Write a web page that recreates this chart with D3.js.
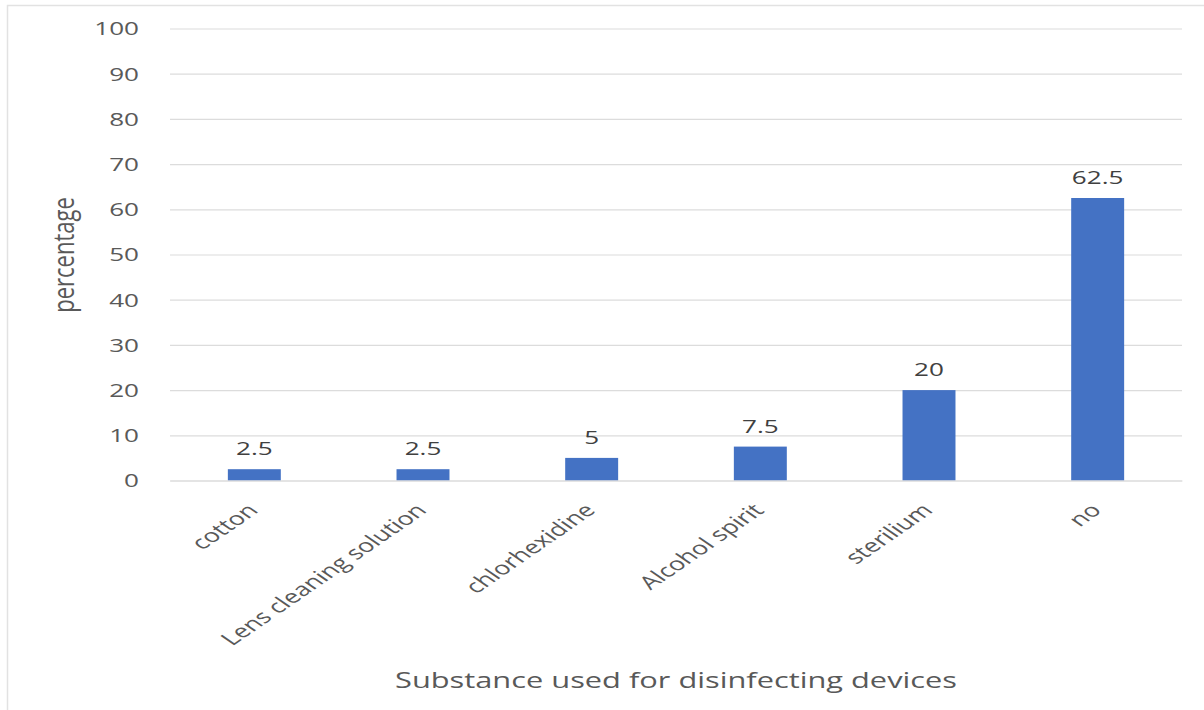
<!DOCTYPE html>
<html>
<head>
<meta charset="utf-8">
<script src="https://cdn.jsdelivr.net/npm/d3@7"></script>
<style>
  html, body { margin: 0; padding: 0; background: #fff; }
  svg { display: block; }
</style>
</head>
<body>
<div id="chart"></div>
<script>
// Substances used for disinfecting devices (percentage of respondents)
const categories = ["cotton", "Lens cleaning solution", "chlorhexidine", "Alcohol spirit", "sterilium", "no"];
const values = [2.5, 2.5, 5, 7.5, 20, 62.5];
const yTicks = [0, 10, 20, 30, 40, 50, 60, 70, 80, 90, 100];

const W = 1204, H = 710;
const margin = { left: 170, right: 22, top: 28.5, bottom: 229.5 };
const FONT = "'Open Sans', 'Noto Sans', sans-serif";
const SX = 1.45; // horizontal widening applied to all text

const svg = d3.select("#chart").append("svg")
  .attr("width", W).attr("height", H);

// chart frame
svg.append("rect")
  .attr("x", 7.5).attr("y", 5.5)
  .attr("width", W + 10).attr("height", H + 10)
  .attr("fill", "#fff").attr("stroke", "#e2e2e2").attr("stroke-width", 1.5);

const x = d3.scaleBand()
  .domain(categories)
  .range([margin.left, W - margin.right])
  .paddingInner(0.686)
  .paddingOuter(0.343);

const y = d3.scaleLinear()
  .domain([0, 100])
  .range([H - margin.bottom, margin.top]);

// horizontal gridlines + y tick labels
const yAxis = d3.axisLeft(y)
  .tickValues(yTicks)
  .tickSize(-(W - margin.right - margin.left))
  .tickPadding(0);

const gy = svg.append("g")
  .attr("transform", `translate(${margin.left},0)`)
  .call(yAxis);
gy.select(".domain").remove();
gy.selectAll(".tick line").attr("stroke", "#dcdcdc").attr("stroke-width", 1.2);
gy.selectAll(".tick text")
  .attr("x", 0)
  .attr("dy", "0.36em")
  .attr("transform", `translate(-31,0) scale(${SX},1)`)
  .attr("fill", "#595959")
  .style("font-family", FONT)
  .style("font-size", "18px");

// bars
svg.append("g").selectAll("rect")
  .data(values)
  .join("rect")
  .attr("x", (d, i) => x(categories[i]))
  .attr("y", d => y(d))
  .attr("width", x.bandwidth())
  .attr("height", d => y(0) - y(d))
  .attr("fill", "#4472c4");

// value labels
svg.append("g").selectAll("text")
  .data(values)
  .join("text")
  .attr("transform", (d, i) =>
    `translate(${x(categories[i]) + x.bandwidth() / 2},${y(d) - 14}) scale(${SX},1)`)
  .attr("text-anchor", "middle")
  .attr("fill", "#404040")
  .style("font-family", FONT)
  .style("font-size", "18px")
  .text(d => d);

// rotated category labels
const xAxis = d3.axisBottom(x).tickSize(0).tickPadding(0);
const gx = svg.append("g")
  .attr("transform", `translate(0,${y(0)})`)
  .call(xAxis);
gx.select(".domain").attr("stroke", "#dcdcdc").attr("stroke-width", 1.2);
gx.selectAll(".tick text")
  .attr("text-anchor", "end")
  .attr("dy", null)
  .attr("y", 0)
  .attr("transform", `translate(5,31) scale(${SX},1) rotate(-45)`)
  .attr("fill", "#595959")
  .style("font-family", FONT)
  .style("font-size", "18.5px");

// axis titles
svg.append("text")
  .attr("transform", `translate(676,688) scale(1.4,1)`)
  .attr("text-anchor", "middle")
  .attr("fill", "#595959")
  .style("font-family", FONT)
  .style("font-size", "22px")
  .text("Substance used for disinfecting devices");

svg.append("text")
  .attr("transform", `translate(74,255) scale(1.3,1) rotate(-90)`)
  .attr("text-anchor", "middle")
  .attr("fill", "#595959")
  .style("font-family", FONT)
  .style("font-size", "22px")
  .text("percentage");
</script>
</body>
</html>
